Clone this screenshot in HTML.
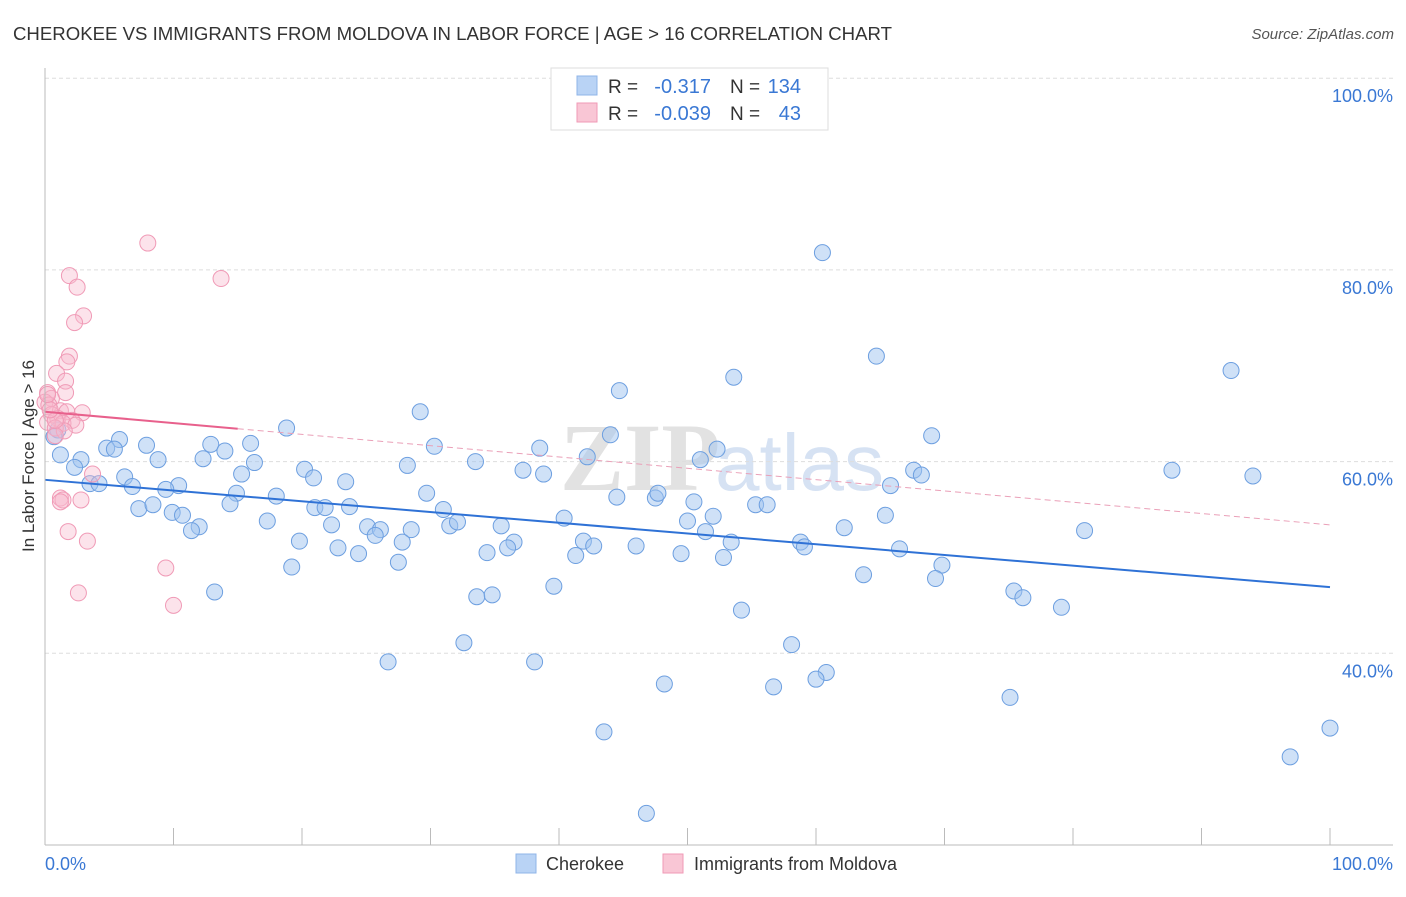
<!DOCTYPE html>
<html><head><meta charset="utf-8"><style>
body{margin:0;background:#fff;width:1406px;height:892px;overflow:hidden;font-family:"Liberation Sans",sans-serif}
</style></head><body>
<svg id="chart" width="1406" height="892" xmlns="http://www.w3.org/2000/svg">
<text x="13" y="40" font-size="18" fill="#333" textLength="879" lengthAdjust="spacingAndGlyphs">CHEROKEE VS IMMIGRANTS FROM MOLDOVA IN LABOR FORCE | AGE &gt; 16 CORRELATION CHART</text>
<text x="1394" y="39" font-size="15" fill="#555" font-style="italic" text-anchor="end">Source: ZipAtlas.com</text>
<text x="720" y="490" font-size="96" fill="#e2e2e2" text-anchor="end" font-family="Liberation Serif" font-weight="bold">ZIP</text>
<text x="715" y="490" font-size="80" fill="#d6e2f3">atlas</text>
<g id="grid"></g><g id="pts"></g><g id="lines"></g>
<line x1="45" y1="845" x2="1393" y2="845" stroke="#bbb"/>
<line x1="45" y1="68" x2="45" y2="845" stroke="#bbb"/>
<text transform="translate(34,456) rotate(-90)" font-size="17" fill="#333" text-anchor="middle">In Labor Force | Age &gt; 16</text>
<text x="45" y="870" font-size="18" fill="#3a78d4">0.0%</text>
<text x="1393" y="870" font-size="18" fill="#3a78d4" text-anchor="end">100.0%</text>
<g>
<rect x="551" y="68" width="277" height="62" fill="#fff" stroke="#ddd"/>
<rect x="577" y="76" width="20" height="19" fill="#b9d3f5" stroke="#8fb4e8"/>
<rect x="577" y="103" width="20" height="19" fill="#f9c6d5" stroke="#f09ab6"/>
<text x="608" y="93" font-size="19" fill="#333">R =</text>
<text x="711" y="93" font-size="20" fill="#3a78d4" text-anchor="end">-0.317</text>
<text x="730" y="93" font-size="19" fill="#333">N =</text>
<text x="801" y="93" font-size="20" fill="#3a78d4" text-anchor="end">134</text>
<text x="608" y="120" font-size="19" fill="#333">R =</text>
<text x="711" y="120" font-size="20" fill="#3a78d4" text-anchor="end">-0.039</text>
<text x="730" y="120" font-size="19" fill="#333">N =</text>
<text x="801" y="120" font-size="20" fill="#3a78d4" text-anchor="end">43</text>
</g>
<g>
<rect x="516" y="854" width="20" height="19" fill="#b9d3f5" stroke="#8fb4e8"/>
<text x="546" y="870" font-size="18" fill="#333">Cherokee</text>
<rect x="663" y="854" width="20" height="19" fill="#f9c6d5" stroke="#f09ab6"/>
<text x="694" y="870" font-size="18" fill="#333">Immigrants from Moldova</text>
</g>
</svg>
<script>
const yTicks=[40,60,80,100];
const xTicks=[0,10,20,30,40,50,60,70,80,90,100];
const blueX=[60.5,64.7,53.6,44.7,92.3,29.2,18.8,69.0,44.0,5.8,4.8,5.4,7.9,12.9,16.0,14.0,30.3,38.5,52.3,1.2,2.8,8.8,12.3,16.3,28.2,33.5,42.2,51.0,2.3,6.2,15.3,20.2,20.9,37.2,38.8,67.6,68.2,87.7,94.0,3.5,4.2,6.8,10.4,9.4,14.9,18.0,23.4,29.7,65.8,44.5,47.5,47.7,50.5,55.3,56.2,7.3,8.4,14.4,21.0,21.8,23.7,31.0,9.9,10.7,17.3,22.3,25.1,26.1,28.5,31.5,32.1,35.5,40.4,50.0,52.0,65.4,12.0,11.4,25.7,27.8,19.8,22.8,24.4,36.5,36.0,34.4,41.9,42.7,46.0,51.4,53.4,52.8,58.8,59.1,62.2,80.9,66.5,41.3,49.5,27.5,19.2,69.8,63.7,69.3,39.6,13.2,33.6,34.8,75.4,76.1,79.1,54.2,32.6,58.1,26.7,38.1,60.8,60.0,48.2,56.7,75.1,43.5,100,96.9,46.8,1.0,0.7];
const blueY=[81.8,71.0,68.8,67.4,69.5,65.2,63.5,62.7,62.8,62.3,61.4,61.3,61.7,61.8,61.9,61.1,61.6,61.4,61.3,60.7,60.2,60.2,60.3,59.9,59.6,60.0,60.5,60.2,59.4,58.4,58.7,59.2,58.3,59.1,58.7,59.1,58.6,59.1,58.5,57.7,57.7,57.4,57.5,57.1,56.7,56.4,57.9,56.7,57.5,56.3,56.2,56.7,55.8,55.5,55.5,55.1,55.5,55.6,55.2,55.2,55.3,55.0,54.7,54.4,53.8,53.4,53.2,52.9,52.9,53.3,53.7,53.3,54.1,53.8,54.3,54.4,53.2,52.8,52.3,51.6,51.7,51.0,50.4,51.6,51.0,50.5,51.7,51.2,51.2,52.7,51.6,50.0,51.6,51.1,53.1,52.8,50.9,50.2,50.4,49.5,49.0,49.2,48.2,47.8,47.0,46.4,45.9,46.1,46.5,45.8,44.8,44.5,41.1,40.9,39.1,39.1,38.0,37.3,36.8,36.5,35.4,31.8,32.2,29.2,23.3,63.3,62.6];
const pinkX=[8.0,1.9,13.7,2.5,3.0,2.3,1.9,1.7,0.9,1.6,1.6,0.2,0.5,0,0.3,1.2,1.7,2.9,0.5,1.0,2.1,0.2,1.4,2.4,0.8,1.5,0.8,3.7,1.2,1.4,1.2,2.8,1.8,3.3,9.4,2.6,10.0,0.8,0.4,0.2];
const pinkY=[82.8,79.4,79.1,78.2,75.2,74.5,71.0,70.4,69.2,68.4,67.2,67.2,66.6,66.2,65.9,65.3,65.2,65.1,64.9,64.5,64.3,64.1,64.0,63.8,63.5,63.2,62.7,58.7,56.2,56.0,55.8,56.0,52.7,51.7,48.9,46.3,45.0,64.3,65.4,67.0];
const blueTrend=[58.1,46.9];
const pinkTrend=[65.2,53.4];
const pinkSolidEnd=15;
const NS='http://www.w3.org/2000/svg';
const sx=v=>45+v*12.85;
const sy=v=>845-(v-20)*9.585;
function mk(tag,attrs,parent){const e=document.createElementNS(NS,tag);for(const k in attrs)e.setAttribute(k,attrs[k]);parent.appendChild(e);return e;}
const grid=document.getElementById('grid');
yTicks.forEach(t=>{
 const l=mk('line',{x1:45,x2:1393,y1:sy(t),y2:sy(t),stroke:'#ddd','stroke-dasharray':'4,3'},grid);
 
 
 const tx=mk('text',{x:1393,y:sy(t)+24,'font-size':18,fill:'#3a78d4','text-anchor':'end'},grid);
 tx.textContent=t.toFixed(1)+'%';
 
 
});
xTicks.forEach(t=>{
 const l=mk('line',{x1:sx(t),x2:sx(t),y1:828,y2:845,stroke:'#bbb'},grid);
 
 
});
const pts=document.getElementById('pts');
blueX.forEach((x,i)=>{
 const c=mk('circle',{cx:sx(x),cy:sy(blueY[i]),r:8,fill:'rgba(160,196,240,0.5)',stroke:'#6d9fe0','stroke-width':1},pts);
 
 
});
pinkX.forEach((x,i)=>{
 const c=mk('circle',{cx:sx(x),cy:sy(pinkY[i]),r:8,fill:'rgba(247,185,204,0.4)',stroke:'#f09ab6','stroke-width':1},pts);
 
 
});
const lines=document.getElementById('lines');
const bl=mk('line',{x1:sx(0),y1:sy(blueTrend[0]),x2:sx(100),y2:sy(blueTrend[1]),stroke:'#2f72d6','stroke-width':2},lines);


const pe=pinkTrend[0]+(pinkTrend[1]-pinkTrend[0])*pinkSolidEnd/100;
const pl=mk('line',{x1:sx(0),y1:sy(pinkTrend[0]),x2:sx(pinkSolidEnd),y2:sy(pe),stroke:'#e8608c','stroke-width':2},lines);


const pd=mk('line',{x1:sx(pinkSolidEnd),y1:sy(pe),x2:sx(100),y2:sy(pinkTrend[1]),stroke:'#eaa0b8','stroke-width':1,'stroke-dasharray':'6,4'},lines);


</script>
</body></html>
